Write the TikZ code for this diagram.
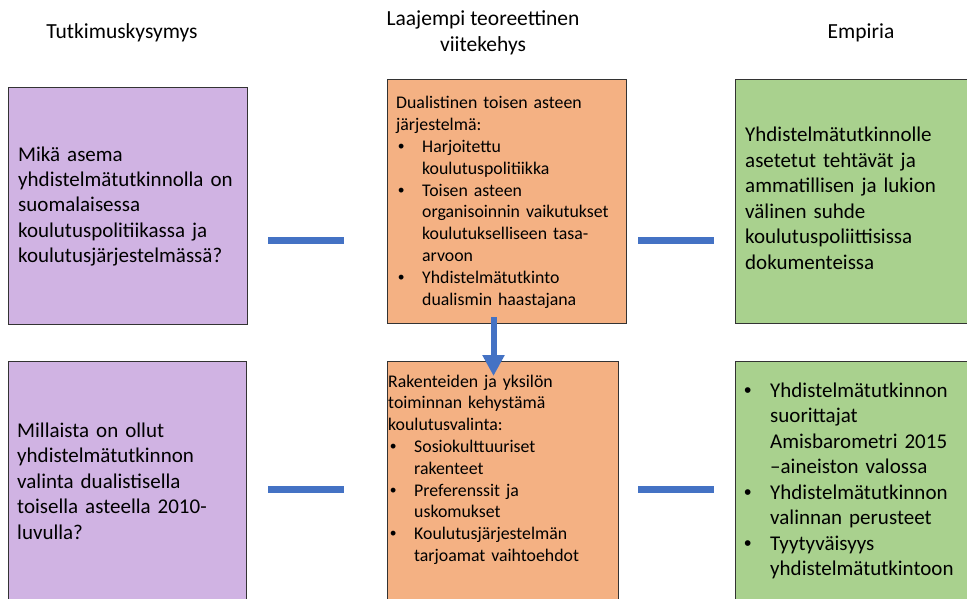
\documentclass[tikz,border=0pt]{standalone}
\usepackage{fontspec}
\setmainfont{Carlito}
\newfontfamily\arialf{Liberation Sans}
\usetikzlibrary{arrows.meta}
\definecolor{lila}{HTML}{D0B3E3}
\definecolor{oranssi}{HTML}{F4B183}
\definecolor{vihrea}{HTML}{A9D18E}
\definecolor{sininen}{HTML}{4472C4}
\newcommand{\itm}[3]{\hspace*{#1pt}\makebox[#2pt][l]{\arialf •}#3}
\newcommand{\cnt}[2]{\hspace*{#1pt}#2}
\begin{document}
\begin{tikzpicture}[x=1pt,y=-1pt,
  box/.style={draw=black!80, line width=1pt, inner sep=0pt, anchor=north west},
  txt/.style={anchor=base west, inner sep=0pt, align=left, text width=260pt},
  big/.style={font=\fontsize{21}{25.5}\selectfont},
  small/.style={font=\fontsize{17.8}{21.8}\selectfont},
  head/.style={font=\fontsize{21.5}{26}\selectfont, inner sep=0pt, align=center},
  link/.style={draw=sininen, line width=7pt},
  flow/.style={draw=sininen, fill=sininen, line width=6pt, -{Triangle[width=21pt,length=21pt]}}]
\useasboundingbox (0,0) rectangle (967,599);
\clip (0,0) rectangle (967,599);

% headers
\node[head] (h1) at (122,33) {Tutkimuskysymys};
\node[head] (h2) at (483,33) {Laajempi teoreettinen\\viitekehys};
\node[head] (h3) at (861,33) {Empiria};

% boxes
\node[box, fill=lila, minimum width=239pt, minimum height=237pt] (q1) at (8,87) {};
\node[box, fill=oranssi, minimum width=239pt, minimum height=244pt] (t1) at (387,79) {};
\node[box, fill=vihrea, minimum width=240pt, minimum height=244pt] (e1) at (735,79) {};
\node[box, fill=lila, minimum width=238pt, minimum height=250pt] (q2) at (8,361) {};
\node[box, fill=oranssi, minimum width=231pt, minimum height=250pt] (t2) at (387,361) {};
\node[box, fill=vihrea, minimum width=240pt, minimum height=250pt] (e2) at (735,361) {};

% texts
\node[txt, big] (q1t) at (18,161) {Mikä asema\\yhdistelmätutkinnolla on\\suomalaisessa\\koulutuspolitiikassa ja\\koulutusjärjestelmässä?};
\node[txt, big] (e1t) at (745,142) {Yhdistelmätutkinnolle\\asetetut tehtävät ja\\ammatillisen ja lukion\\välinen suhde\\koulutuspoliittisissa\\dokumenteissa};
\node[txt, big] (q2t) at (17,437) {Millaista on ollut\\yhdistelmätutkinnon\\valinta dualistisella\\toisella asteella 2010-\\luvulla?};
\node[txt, big] (e2t) at (743,397) {\itm{1}{26}{Yhdistelmätutkinnon}\\\cnt{27}{suorittajat}\\\cnt{27}{Amisbarometri 2015}\\\cnt{27}{–aineiston valossa}\\\itm{1}{26}{Yhdistelmätutkinnon}\\\cnt{27}{valinnan perusteet}\\\itm{1}{26}{Tyytyväisyys}\\\cnt{27}{yhdistelmätutkintoon}};
\node[txt, small] (t1t) at (396,109) {Dualistinen toisen asteen\\järjestelmä:\\\itm{2}{24}{Harjoitettu}\\\cnt{26}{koulutuspolitiikka}\\\itm{2}{24}{Toisen asteen}\\\cnt{26}{organisoinnin vaikutukset}\\\cnt{26}{koulutukselliseen tasa-}\\\cnt{26}{arvoon}\\\itm{2}{24}{Yhdistelmätutkinto}\\\cnt{26}{dualismin haastajana}};
\node[txt, small] (t2t) at (388,387) {Rakenteiden ja yksilön\\toiminnan kehystämä\\koulutusvalinta:\\\itm{2}{24}{Sosiokulttuuriset}\\\cnt{26}{rakenteet}\\\itm{2}{24}{Preferenssit ja}\\\cnt{26}{uskomukset}\\\itm{2}{24}{Koulutusjärjestelmän}\\\cnt{26}{tarjoamat vaihtoehdot}};

% connectors
\coordinate (a1) at (268,240.5); \coordinate (a2) at (344,240.5);
\coordinate (b1) at (638,240.5); \coordinate (b2) at (714,240.5);
\coordinate (c1) at (268,489.5); \coordinate (c2) at (344,489.5);
\coordinate (d1) at (638,489.5); \coordinate (d2) at (714,489.5);
\draw[link] (a1) -- (a2);
\draw[link] (b1) -- (b2);
\draw[link] (c1) -- (c2);
\draw[link] (d1) -- (d2);

% arrow
\coordinate (f1) at (493.5,317);
\coordinate (f2) at (493.5,376);
\draw[flow] (f1) -- (f2);
\end{tikzpicture}
\end{document}
